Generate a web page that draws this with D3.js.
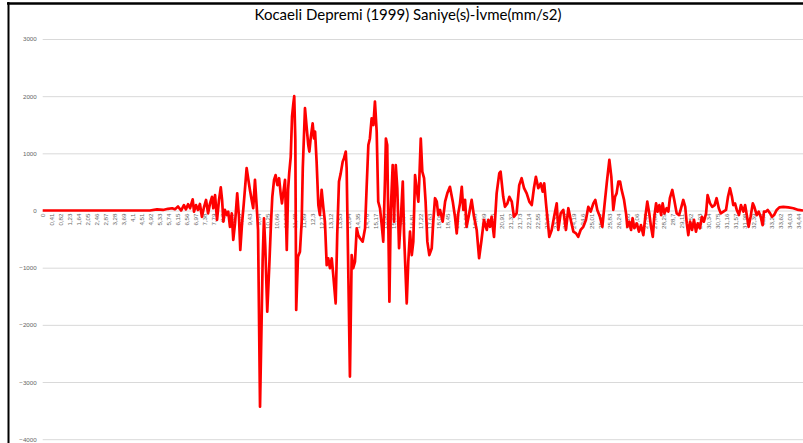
<!DOCTYPE html>
<html>
<head>
<meta charset="utf-8">
<script src="https://cdn.jsdelivr.net/npm/d3@7/dist/d3.min.js"></script>
<style>
  html, body { margin: 0; padding: 0; background: #fff; }
  svg { display: block; }
</style>
</head>
<body>
<svg id="chart" width="803" height="443"></svg>
<script>
// Kocaeli 1999 ground acceleration record: [time (s), acceleration (mm/s²)]
const accelRecord = [
  [0,0],[2.61,0],[4.89,0],[5.21,20],[5.49,10],[5.71,30],[5.90,40],[6.03,20],[6.17,70],[6.31,0],
  [6.44,95],[6.53,20],[6.63,110],[6.72,40],[6.84,195],[6.90,-20],[6.99,95],[7.08,10],[7.17,115],[7.26,-110],
  [7.36,65],[7.45,185],[7.54,-50],[7.63,125],[7.72,240],[7.78,40],[7.86,270],[7.95,-165],[8.04,185],[8.12,405],
  [8.18,185],[8.24,-195],[8.31,10],[8.40,-80],[8.46,-20],[8.54,-285],[8.62,-50],[8.69,-515],[8.77,-225],[8.87,300],
  [8.95,-110],[9.01,-690],[9.09,-225],[9.17,125],[9.22,360],[9.30,740],[9.38,535],[9.45,360],[9.53,185],[9.60,40],
  [9.68,535],[9.76,65],[9.82,-340],[9.91,-3430],[9.98,-1975],[10.03,-865],[10.09,-135],[10.15,-635],[10.24,-1770],[10.33,-985],
  [10.41,-225],[10.47,240],[10.55,535],[10.62,620],[10.70,445],[10.78,565],[10.85,300],[10.91,125],[10.99,360],[11.05,535],
  [11.13,-690],[11.19,360],[11.24,650],[11.31,940],[11.37,1640],[11.43,1875],[11.47,2000],[11.52,1235],[11.56,-1740],[11.64,-810],
  [11.73,-720],[11.81,-195],[11.86,740],[11.96,1790],[12.04,1440],[12.11,1145],[12.16,1030],[12.22,1260],[12.31,1525],[12.37,1260],
  [12.42,1380],[12.49,855],[12.57,95],[12.64,-80],[12.72,360],[12.80,40],[12.87,-195],[12.95,-955],[13.02,-835],[13.10,-1010],
  [13.18,-835],[13.25,-1130],[13.36,-1625],[13.43,-430],[13.51,505],[13.59,650],[13.68,855],[13.74,915],[13.82,1030],[13.86,740],
  [13.94,-1185],[14.01,-2905],[14.09,-780],[14.16,-1010],[14.24,-895],[14.32,-310],[14.39,-430],[14.47,-485],[14.59,-545],[14.70,-310],
  [14.77,390],[14.85,1145],[14.92,1260],[15.00,1610],[15.08,1495],[15.15,1905],[15.23,1380],[15.30,155],[15.38,40],[15.46,-255],
  [15.53,-545],[15.61,565],[15.65,1260],[15.71,1145],[15.81,-1595],[15.87,-20],[15.96,795],[16.02,-195],[16.10,795],[16.17,390],
  [16.25,-660],[16.34,-80],[16.42,505],[16.48,-430],[16.60,-1625],[16.67,-895],[16.75,-370],[16.83,-780],[16.90,-545],[16.98,620],
  [17.05,390],[17.13,155],[17.17,505],[17.24,1260],[17.31,680],[17.39,565],[17.46,155],[17.54,-545],[17.63,-780],[17.74,-660],
  [17.81,-195],[17.89,215],[17.97,155],[18.04,-80],[18.12,10],[18.24,-195],[18.35,155],[18.45,300],[18.57,415],[18.70,155],
  [18.80,-110],[18.88,-400],[18.95,-50],[19.03,125],[19.11,415],[19.18,10],[19.26,185],[19.33,-285],[19.45,-50],[19.56,185],
  [19.67,-110],[19.79,-340],[19.90,-835],[20.01,-515],[20.12,-165],[20.25,-340],[20.32,-165],[20.40,-285],[20.47,-110],[20.58,-460],
  [20.70,300],[20.82,650],[20.88,680],[21.00,240],[21.08,65],[21.19,125],[21.28,240],[21.39,155],[21.49,-110],[21.61,-50],
  [21.73,445],[21.84,565],[21.95,390],[22.07,300],[22.19,155],[22.30,95],[22.40,390],[22.49,590],[22.60,390],[22.71,475],
  [22.80,330],[22.87,475],[22.95,125],[23.01,-110],[23.10,-460],[23.21,-340],[23.32,-110],[23.44,125],[23.51,-340],[23.62,-50],
  [23.74,10],[23.86,-340],[23.97,40],[24.08,-165],[24.20,-370],[24.32,-400],[24.42,-460],[24.53,-340],[24.65,-285],[24.77,-165],
  [24.88,65],[24.99,-20],[25.11,125],[25.20,185],[25.29,10],[25.41,-110],[25.52,-285],[25.61,65],[25.72,475],[25.84,885],
  [25.93,590],[26.02,10],[26.10,240],[26.17,300],[26.25,505],[26.33,505],[26.40,360],[26.51,185],[26.60,-50],[26.66,-285],
  [26.75,-195],[26.83,-340],[26.90,-135],[26.98,-310],[27.09,-225],[27.19,-370],[27.28,-255],[27.39,-430],[27.48,-110],[27.57,155],
  [27.66,-50],[27.74,-285],[27.82,-460],[27.89,-110],[27.97,125],[28.04,-20],[28.12,95],[28.20,-80],[28.27,125],[28.35,-50],
  [28.45,40],[28.53,-20],[28.60,215],[28.71,360],[28.80,185],[28.91,-50],[29.02,-80],[29.11,40],[29.21,185],[29.30,65],
  [29.37,-225],[29.44,-430],[29.52,-195],[29.61,-340],[29.70,-165],[29.79,-370],[29.87,-225],[29.97,-310],[30.06,-110],[30.15,-195],
  [30.25,-50],[30.32,270],[30.43,125],[30.53,65],[30.64,95],[30.73,215],[30.83,40],[30.92,-50],[31.04,-20],[31.16,10],
  [31.25,240],[31.34,390],[31.43,240],[31.49,95],[31.57,125],[31.65,10],[31.75,-80],[31.84,95],[31.95,-20],[32.03,95],
  [32.13,-135],[32.19,-285],[32.28,-110],[32.38,125],[32.45,65],[32.56,-80],[32.65,-20],[32.74,-110],[32.83,-255],[32.89,-20],
  [32.97,-20],[33.06,10],[33.17,-50],[33.26,-110],[33.35,-80],[33.47,10],[33.59,55],[33.77,65],[34.00,55],[34.23,40],
  [34.46,10],[34.67,0]
];

// Category labels shown along the time axis (every 0.41 s)
const xTickLabels = [
  "0","0,41","0,82","1,23","1,64","2,05","2,46","2,87","3,28","3,69","4,1","4,51","4,92","5,33","5,74",
  "6,15","6,56","6,97","7,38","7,79","8,2","8,61","9,02","9,43","9,84","10,25","10,66","11,07","11,48",
  "11,89","12,3","12,71","13,12","13,53","13,94","14,35","14,76","15,17","15,58","15,99","16,4","16,81",
  "17,22","17,63","18,04","18,45","18,86","19,27","19,68","20,09","20,5","20,91","21,32","21,73","22,14",
  "22,55","22,96","23,37","23,78","24,19","24,6","25,01","25,42","25,83","26,24","26,65","27,06","27,47",
  "27,88","28,29","28,7","29,11","29,52","29,93","30,34","30,75","31,16","31,57","31,98","32,39","32,8",
  "33,21","33,62","34,03","34,44"
];

const yTicks = [3000, 2000, 1000, 0, -1000, -2000, -3000, -4000];
const yDomain = [-4000, 3000];
const timeDomain = [0, 34.67];
const chartTitle = "Kocaeli Depremi (1999) Saniye(s)-İvme(mm/s2)";

const svg = d3.select("#chart");

const plot = { left: 42.7, right: 803, top: 39, bottom: 439.2 };

const x = d3.scaleLinear().domain(timeDomain).range([plot.left, plot.right]);
const y = d3.scaleLinear().domain(yDomain).range([plot.bottom, plot.top]);

// frame edges
svg.append("line").attr("x1", 7).attr("x2", 803).attr("y1", 3.5).attr("y2", 3.5)
  .attr("stroke", "#000").attr("stroke-width", 2.5);
svg.append("line").attr("x1", 8.5).attr("x2", 8.5).attr("y1", 2).attr("y2", 443)
  .attr("stroke", "#000").attr("stroke-width", 2);

// title
svg.append("text")
  .attr("x", 408).attr("y", 20)
  .attr("text-anchor", "middle")
  .attr("font-family", "Lato, 'Open Sans', sans-serif")
  .attr("font-size", 15)
  .attr("fill", "#000")
  .text(chartTitle);

// horizontal gridlines + value labels
const yAxis = d3.axisLeft(y).tickValues(yTicks).tickSize(-(plot.right - plot.left)).tickPadding(6)
  .tickFormat(d3.format("d"));
const gy = svg.append("g").attr("transform", `translate(${plot.left},0)`).call(yAxis);
gy.select(".domain").remove();
gy.selectAll(".tick line").attr("stroke", "#d9d9d9").attr("stroke-width", 1);
gy.selectAll(".tick text")
  .attr("font-family", "'Liberation Sans', Arial, sans-serif")
  .attr("font-size", 6.2)
  .attr("fill", "#666");

// time axis labels, rotated, hanging below the zero line
const tickTimes = xTickLabels.map(s => +s.replace(",", "."));
const xAxis = d3.axisBottom(x).tickValues(tickTimes).tickSize(0).tickPadding(0)
  .tickFormat((d, i) => xTickLabels[i]);
const gx = svg.append("g").attr("transform", `translate(0,${y(0)})`).call(xAxis);
gx.select(".domain").remove();
gx.selectAll(".tick text")
  .attr("font-family", "'Liberation Sans', Arial, sans-serif")
  .attr("font-size", 6.2)
  .attr("fill", "#666")
  .attr("text-anchor", "end")
  .attr("transform", "rotate(-90)")
  .attr("x", -3)
  .attr("y", 0)
  .attr("dy", "0.35em");

// acceleration trace
const line = d3.line().x(d => x(d[0])).y(d => y(d[1]));
svg.append("path")
  .datum(accelRecord)
  .attr("d", line)
  .attr("fill", "none")
  .attr("stroke", "#ff0000")
  .attr("stroke-width", 2.7)
  .attr("stroke-linejoin", "round");
</script>
</body>
</html>
